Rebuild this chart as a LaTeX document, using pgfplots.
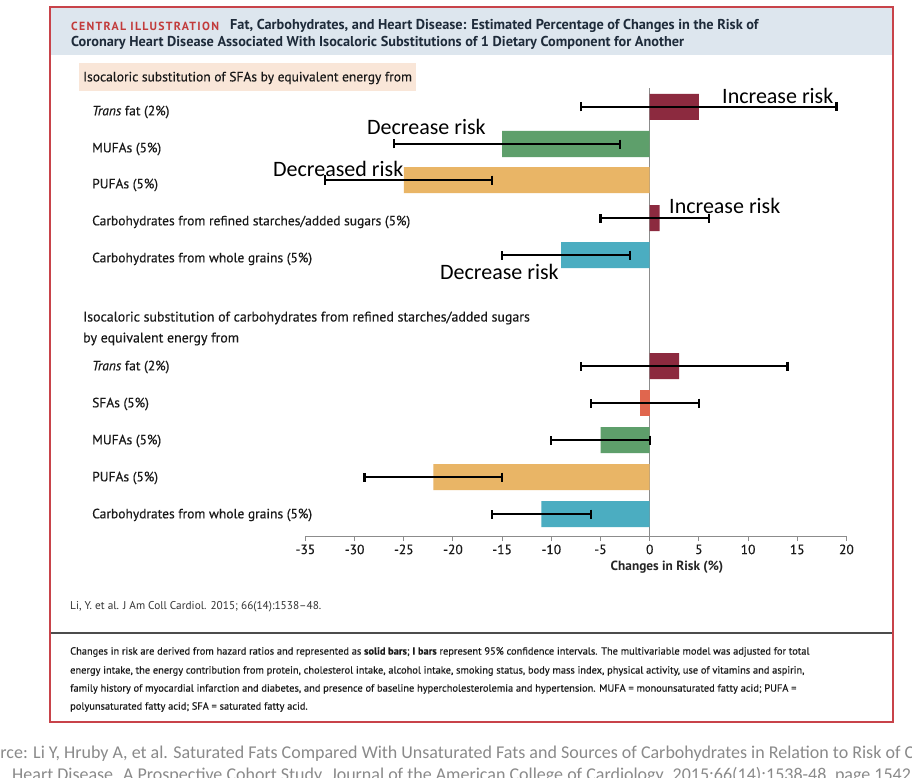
\documentclass[border=0pt]{standalone}
\usepackage{fontspec}
\setmainfont{PT Sans}
\newfontfamily\carlito{Carlito}
\newfontfamily\labfont[FakeBold=0.35]{PT Sans}
\usepackage{pgfplots}
\pgfplotsset{compat=1.18}

\definecolor{maroon}{HTML}{8C2A3F}
\definecolor{sgreen}{HTML}{5E9F6B}
\definecolor{sorange}{HTML}{E9B566}
\definecolor{steal}{HTML}{4BADC1}
\definecolor{salmon}{HTML}{E0664E}
\definecolor{band}{HTML}{DDE6EE}
\definecolor{peach}{HTML}{F9E6D8}
\definecolor{frame}{HTML}{C8434A}
\definecolor{illred}{HTML}{C23B3B}
\definecolor{titletext}{HTML}{1E2B3A}
\definecolor{srcgray}{HTML}{8A8A8A}

\begin{document}
\begin{tikzpicture}[x=1pt,y=1pt]
\path[use as bounding box] (0,0) rectangle (912,-778);
\clip (0,0) rectangle (912,-778);
\fill[white] (0,0) rectangle (912,-778);

% frame and title band
\fill[band] (50,-7) rectangle (893,-55);
\draw[frame, line width=2.5pt] (50,-7) rectangle (893,-722);
\fill[peach] (79,-63) rectangle (416,-91);

\node[anchor=west, inner sep=0, text=illred, font=\fontsize{11.8}{13}\bfseries\addfontfeature{LetterSpace=11}] at (71,-26) {CENTRAL ILLUSTRATION};
\node[anchor=west, inner sep=0, text=titletext, font=\fontsize{14.3}{16}\bfseries] at (230,-26)
  {Fat, Carbohydrates, and Heart Disease: Estimated Percentage of Changes in the Risk of};
\node[anchor=west, inner sep=0, text=titletext, font=\fontsize{14.3}{16}\bfseries] at (71,-43)
  {Coronary Heart Disease Associated With Isocaloric Substitutions of 1 Dietary Component for Another};

% row labels
\tikzset{lab/.style={anchor=west, inner sep=0, text=black!90, font=\labfont\fontsize{13.5}{16}\selectfont}}
\node[lab] at (83,-78) {Isocaloric substitution of SFAs by equivalent energy from};
\node[lab] at (92,-112) {\textit{Trans} fat (2\%)};
\node[lab] at (92,-149) {MUFAs (5\%)};
\node[lab] at (92,-185) {PUFAs (5\%)};
\node[lab] at (92,-222) {Carbohydrates from refined starches/added sugars (5\%)};
\node[lab] at (92,-259) {Carbohydrates from whole grains (5\%)};
\node[lab, font=\labfont\fontsize{13.9}{16}\selectfont] at (83,-318) {Isocaloric substitution of carbohydrates from refined starches/added sugars};
\node[lab, font=\labfont\fontsize{13.9}{16}\selectfont] at (83,-339) {by equivalent energy from};
\node[lab] at (92,-367) {\textit{Trans} fat (2\%)};
\node[lab] at (92,-404) {SFAs (5\%)};
\node[lab] at (92,-441) {MUFAs (5\%)};
\node[lab] at (92,-478) {PUFAs (5\%)};
\node[lab] at (92,-515) {Carbohydrates from whole grains (5\%)};

\begin{axis}[
    at={(310.5,-536)}, anchor=south west,
    scale only axis, width=541pt, height=448pt,
    xmin=-35, xmax=20, ymin=-536, ymax=-88,
    axis x line*=bottom, axis y line=none,
    xtick={-35,-30,...,20},
    xticklabels={-35,-30,-25,-20,-15,-10,-5,0,5,10,15,20},
    tick align=outside, major tick length=5pt,
    axis line style={black!45, line width=1pt},
    x tick style={black!45, line width=1pt},
    xticklabel style={font=\labfont\fontsize{13.5}{16}\selectfont, text=black!90},
    clip=false,
    ci/.style={xbar, bar width=26pt, bar shift=0pt, draw=none,
      error bars/x dir=both, error bars/x explicit,
      error bars/error mark=|,
      error bars/error bar style={draw=black, line width=2.6pt},
      error bars/error mark options={draw=black, line width=2.2pt, mark size=4.5pt, rotate=0}},
  ]
  \draw[black!45, line width=1pt] (axis cs:0,-536) -- (axis cs:0,-88);

  \addplot[ci, fill=maroon] coordinates {
    (5,-107) += (14,0) -= (12,0)
    (1,-218) += (5,0) -= (6,0)
    (3,-366) += (11,0) -= (10,0)
  };
  \addplot[ci, fill=sgreen] coordinates {
    (-15,-144) += (12,0) -= (11,0)
    (-5,-440) += (5,0) -= (5,0)
  };
  \addplot[ci, fill=sorange] coordinates {
    (-25,-180) += (9,0) -= (8,0)
    (-22,-477) += (7,0) -= (7,0)
  };
  \addplot[ci, fill=steal] coordinates {
    (-9,-255) += (7,0) -= (6,0)
    (-11,-514) += (5,0) -= (5,0)
  };
  \addplot[ci, fill=salmon] coordinates {
    (-1,-403) += (6,0) -= (5,0)
  };
\end{axis}

\node[anchor=center, inner sep=0, font=\fontsize{13.3}{15}\bfseries, text=black!85] at (667,-567) {Changes in Risk (\%)};

% annotations
\tikzset{ann/.style={anchor=base west, inner sep=0, font=\carlito\fontsize{22}{26}\selectfont}}
\node[ann] at (722,-104) {Increase risk};
\node[ann] at (367,-135) {Decrease risk};
\node[ann] at (273,-177) {Decreased risk};
\node[ann] at (669,-213) {Increase risk};
\node[ann] at (440,-279) {Decrease risk};

% citation and footnote
\node[anchor=west, inner sep=0, font=\fontsize{11.3}{13}\selectfont, text=black!80] at (70,-607) {Li, Y. et al. J Am Coll Cardiol. 2015; 66(14):1538--48.};
\draw[black!70, line width=1.5pt] (51,-633) -- (892,-633);
\tikzset{foot/.style={anchor=west, inner sep=0, font=\labfont\fontsize{10.4}{12}\selectfont, text=black!90}}
\node[foot] at (70,-652) {Changes in risk are derived from hazard ratios and represented as \textbf{solid bars}; \textbf{I bars} represent 95\% confidence intervals. The multivariable model was adjusted for total};
\node[foot] at (70,-671) {energy intake, the energy contribution from protein, cholesterol intake, alcohol intake, smoking status, body mass index, physical activity, use of vitamins and aspirin,};
\node[foot] at (70,-689) {family history of myocardial infarction and diabetes, and presence of baseline hypercholesterolemia and hypertension. MUFA = monounsaturated fatty acid; PUFA =};
\node[foot] at (70,-707) {polyunsaturated fatty acid; SFA = saturated fatty acid.};

% source line below the figure
\tikzset{src/.style={anchor=base west, inner sep=0, font=\carlito\fontsize{18}{20}\selectfont, text=srcgray}}
\node[src] at (-27,-758) {Source: Li Y, Hruby A, et al. Saturated Fats Compared With Unsaturated Fats and Sources of Carbohydrates in Relation to Risk of Coronary};
\node[src] at (12,-780) {Heart Disease. A Prospective Cohort Study. Journal of the American College of Cardiology. 2015;66(14):1538-48, page 1542.};
\end{tikzpicture}
\end{document}
